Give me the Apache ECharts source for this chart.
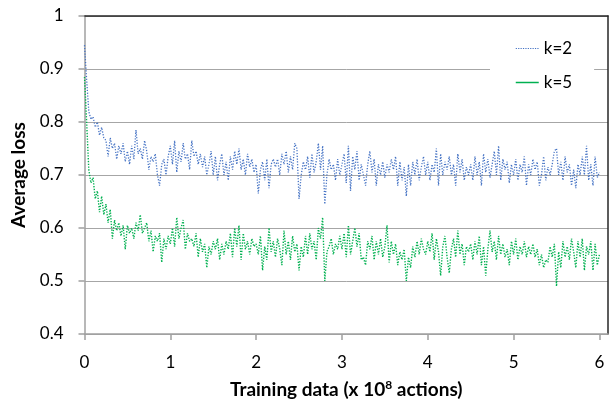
<!DOCTYPE html>
<html>
<head>
<meta charset="utf-8">
<script src="https://cdn.jsdelivr.net/npm/echarts@6/dist/echarts.min.js"></script>
<style>
html,body{margin:0;padding:0;background:#fff;}
#chart{width:616px;height:401px;}
</style>
</head>
<body>
<div id="chart"></div>
<script>
// x step between samples (in units of 10^8 actions)
const sampleStep = 0.025;
const seriesNames = ['k=2', 'k=5'];
const xTicks = [0, 1, 2, 3, 4, 5, 6];

const lossK2 = [
  0.945, 0.88, 0.82, 0.805, 0.81, 0.79, 0.80, 0.775, 0.79, 0.77,
  0.765, 0.735, 0.77, 0.75, 0.76, 0.73, 0.755, 0.74, 0.76, 0.725,
  0.745, 0.72, 0.755, 0.73, 0.785, 0.74, 0.75, 0.73, 0.765, 0.745,
  0.71, 0.735, 0.725, 0.74, 0.70, 0.68, 0.72, 0.73, 0.70, 0.735,
  0.755, 0.72, 0.765, 0.705, 0.745, 0.725, 0.76, 0.73, 0.74, 0.71,
  0.765, 0.735, 0.745, 0.72, 0.74, 0.715, 0.735, 0.70, 0.72, 0.745,
  0.70, 0.735, 0.69, 0.72, 0.74, 0.70, 0.725, 0.69, 0.735, 0.71,
  0.745, 0.72, 0.75, 0.71, 0.73, 0.70, 0.74, 0.715, 0.73, 0.705,
  0.72, 0.665, 0.71, 0.725, 0.69, 0.73, 0.675, 0.72, 0.73, 0.715,
  0.73, 0.70, 0.74, 0.72, 0.745, 0.705, 0.735, 0.71, 0.76, 0.75,
  0.655, 0.70, 0.725, 0.71, 0.735, 0.695, 0.74, 0.705, 0.725, 0.76,
  0.71, 0.755, 0.645, 0.70, 0.73, 0.71, 0.72, 0.69, 0.73, 0.70,
  0.72, 0.74, 0.685, 0.755, 0.67, 0.735, 0.71, 0.745, 0.69, 0.72,
  0.70, 0.68, 0.72, 0.745, 0.705, 0.73, 0.68, 0.72, 0.70, 0.725,
  0.695, 0.72, 0.705, 0.73, 0.71, 0.735, 0.68, 0.725, 0.69, 0.715,
  0.66, 0.72, 0.68, 0.725, 0.70, 0.73, 0.69, 0.715, 0.735, 0.70,
  0.725, 0.69, 0.72, 0.705, 0.75, 0.68, 0.74, 0.70, 0.725, 0.71,
  0.735, 0.70, 0.72, 0.68, 0.74, 0.705, 0.73, 0.69, 0.715, 0.70,
  0.72, 0.69, 0.735, 0.70, 0.725, 0.68, 0.74, 0.705, 0.73, 0.695,
  0.72, 0.745, 0.70, 0.755, 0.69, 0.73, 0.71, 0.725, 0.685, 0.72,
  0.70, 0.73, 0.69, 0.72, 0.705, 0.735, 0.68, 0.72, 0.70, 0.73,
  0.71, 0.725, 0.68, 0.70, 0.735, 0.69, 0.715, 0.70, 0.72, 0.745,
  0.75, 0.70, 0.725, 0.69, 0.735, 0.705, 0.72, 0.68, 0.71, 0.675,
  0.72, 0.70, 0.735, 0.70, 0.755, 0.69, 0.72, 0.68, 0.735, 0.695, 0.705
];

const lossK5 = [
  0.885, 0.80, 0.71, 0.685, 0.695, 0.655, 0.67, 0.63, 0.66, 0.625,
  0.645, 0.61, 0.635, 0.58, 0.615, 0.595, 0.61, 0.585, 0.605, 0.56,
  0.605, 0.59, 0.60, 0.58, 0.61, 0.595, 0.625, 0.59, 0.60, 0.61,
  0.575, 0.595, 0.555, 0.585, 0.575, 0.59, 0.535, 0.58, 0.56, 0.585,
  0.57, 0.60, 0.565, 0.62, 0.58, 0.60, 0.615, 0.56, 0.59, 0.575,
  0.58, 0.565, 0.59, 0.545, 0.58, 0.555, 0.57, 0.525, 0.565, 0.55,
  0.575, 0.56, 0.58, 0.54, 0.57, 0.55, 0.575, 0.56, 0.59, 0.545,
  0.60, 0.565, 0.605, 0.54, 0.59, 0.56, 0.575, 0.55, 0.58, 0.565,
  0.57, 0.55, 0.585, 0.52, 0.565, 0.54, 0.60, 0.555, 0.575, 0.545,
  0.58, 0.56, 0.53, 0.595, 0.55, 0.575, 0.54, 0.585, 0.555, 0.57,
  0.52, 0.565, 0.545, 0.585, 0.55, 0.59, 0.56, 0.575, 0.54, 0.60,
  0.58, 0.62, 0.50, 0.555, 0.565, 0.58, 0.55, 0.57, 0.56, 0.585,
  0.56, 0.59, 0.545, 0.605, 0.55, 0.575, 0.60, 0.565, 0.59, 0.54,
  0.545, 0.53, 0.575, 0.56, 0.585, 0.54, 0.575, 0.55, 0.58, 0.545,
  0.565, 0.605, 0.535, 0.575, 0.55, 0.57, 0.53, 0.555, 0.54, 0.56,
  0.50, 0.545, 0.525, 0.565, 0.545, 0.575, 0.55, 0.58, 0.56, 0.55,
  0.575, 0.555, 0.59, 0.54, 0.58, 0.555, 0.51, 0.565, 0.585, 0.545,
  0.515, 0.56, 0.58, 0.545, 0.595, 0.55, 0.57, 0.53, 0.565, 0.555,
  0.57, 0.54, 0.575, 0.55, 0.585, 0.53, 0.565, 0.51, 0.56, 0.595,
  0.555, 0.575, 0.54, 0.585, 0.55, 0.57, 0.545, 0.56, 0.53, 0.575,
  0.55, 0.58, 0.54, 0.565, 0.55, 0.575, 0.545, 0.565, 0.55, 0.57,
  0.545, 0.56, 0.53, 0.55, 0.525, 0.54, 0.535, 0.565, 0.545, 0.57,
  0.49, 0.555, 0.525, 0.575, 0.545, 0.565, 0.54, 0.58, 0.555, 0.525,
  0.575, 0.545, 0.58, 0.52, 0.565, 0.55, 0.575, 0.52, 0.57, 0.53, 0.55
];

function pairs(values) {
  return values.map(function (v, i) { return [+(i * sampleStep).toFixed(3), v]; });
}

const FONT = 'Lato';
const chart = echarts.init(document.getElementById('chart'), null, {renderer: 'canvas'});

const option = {
  animation: false,
  backgroundColor: '#ffffff',
  textStyle: {fontFamily: FONT},
  grid: {left: 84.5, right: 8, top: 16, bottom: 67, containLabel: false, outerBoundsMode: 'none'},
  legend: {
    orient: 'vertical',
    left: 490,
    top: 32,
    backgroundColor: '#ffffff',
    padding: [8, 22, 10, 25],
    itemWidth: 23,
    itemHeight: 10,
    itemGap: 17,
    itemStyle: {opacity: 0},
    textStyle: {fontFamily: FONT, fontSize: 17, color: '#000'},
    data: [
      {name: seriesNames[0], lineStyle: {width: 1, type: [1.2, 1.2]}},
      {name: seriesNames[1], lineStyle: {type: 'solid', width: 1.5}}
    ]
  },
  xAxis: [{
    type: 'value',
    min: 0,
    max: 6.1,
    interval: 1,
    name: 'Training data (x 10{sup|8} actions)',
    nameLocation: 'middle',
    nameGap: 45,
    nameTextStyle: {
      fontFamily: FONT, fontSize: 19, fontWeight: 'bold', color: '#000',
      rich: {sup: {fontFamily: FONT, fontSize: 12, fontWeight: 'bold', color: '#000', verticalAlign: 'top', padding: [0, 0, 9, 0]}}
    },
    axisLine: {show: true, lineStyle: {color: '#a0a0a0', width: 1.5}},
    axisTick: {show: true, length: 6, customValues: xTicks, lineStyle: {color: '#a0a0a0', width: 1.5}},
    axisLabel: {customValues: xTicks, fontFamily: FONT, fontSize: 17, color: '#000', margin: 20},
    splitLine: {show: false}
  }, {
    type: 'value',
    position: 'top',
    min: 0,
    max: 6.1,
    axisLine: {show: true, onZero: false, lineStyle: {color: '#262626', width: 1.5}},
    axisTick: {show: false},
    axisLabel: {show: false},
    splitLine: {show: false}
  }],
  yAxis: [{
    type: 'value',
    min: 0.4,
    max: 1.0,
    interval: 0.1,
    name: 'Average loss',
    nameLocation: 'middle',
    nameGap: 49,
    nameTextStyle: {fontFamily: FONT, fontSize: 19, fontWeight: 'bold', color: '#000'},
    axisLine: {show: true, lineStyle: {color: '#a0a0a0', width: 1.5}},
    axisTick: {show: true, length: 6, lineStyle: {color: '#a0a0a0', width: 1.5}},
    axisLabel: {fontFamily: FONT, fontSize: 17, color: '#000', margin: 21,
      formatter: function (v) { return String(+v.toFixed(1)); }},
    splitLine: {show: true, lineStyle: {color: '#a6a6a6', width: 1}}
  }, {
    type: 'value',
    position: 'right',
    min: 0.4,
    max: 1.0,
    axisLine: {show: true, onZero: false, lineStyle: {color: '#262626', width: 1.5}},
    axisTick: {show: false},
    axisLabel: {show: false},
    splitLine: {show: false}
  }],
  series: [{
    name: seriesNames[0],
    type: 'line',
    data: pairs(lossK2),
    symbol: 'none',
    lineStyle: {color: '#4472C4', width: 1.3, type: [1.2, 1.6]},
    itemStyle: {color: '#4472C4'},
    z: 3
  }, {
    name: seriesNames[1],
    type: 'line',
    data: pairs(lossK5),
    symbol: 'none',
    lineStyle: {color: '#00B050', width: 1.4, type: [1.3, 1.5]},
    itemStyle: {color: '#00B050'},
    z: 2
  }]
};
chart.setOption(option);
</script>
</body>
</html>
